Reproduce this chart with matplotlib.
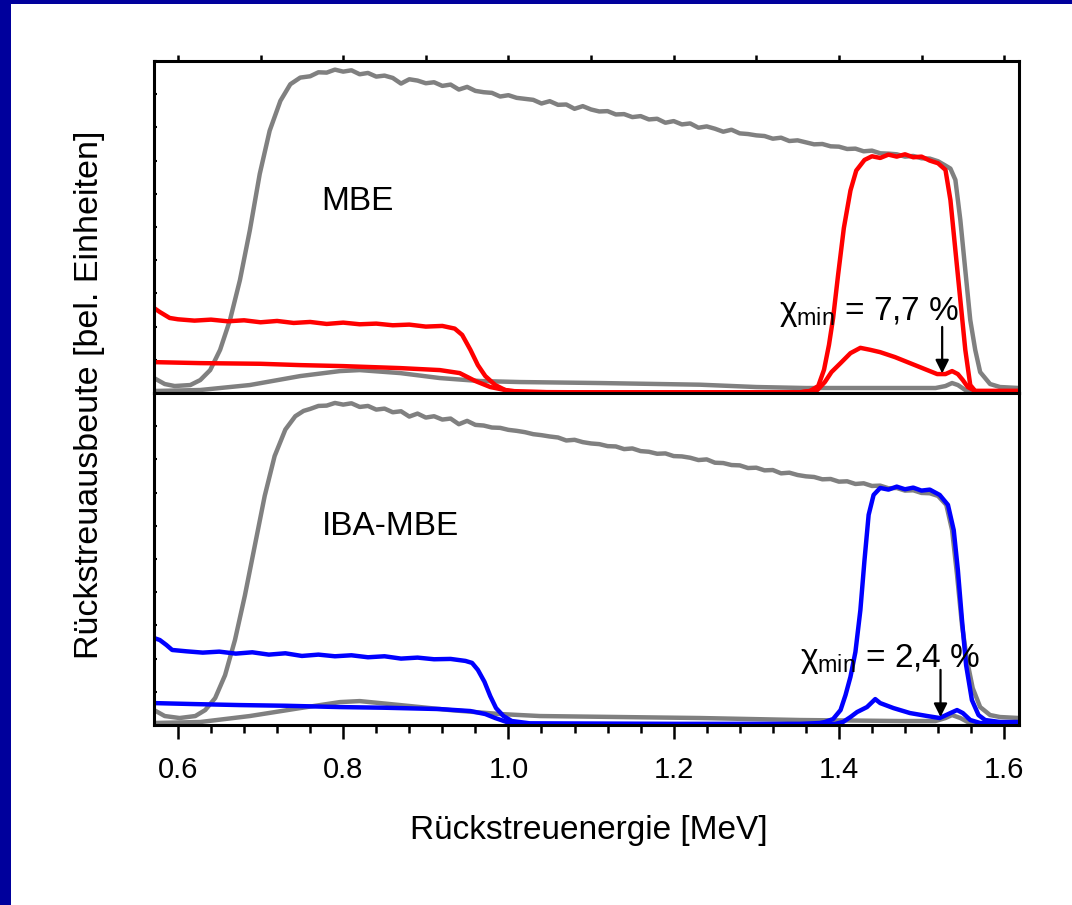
import numpy as np
import matplotlib
matplotlib.use("Agg")
import matplotlib.pyplot as plt
from matplotlib.patches import Rectangle
from matplotlib.ticker import MultipleLocator, NullFormatter

plt.rcParams['font.family'] = ['Liberation Sans', 'DejaVu Sans']
plt.rcParams['mathtext.fontset'] = 'custom'
plt.rcParams['mathtext.rm'] = 'Liberation Sans'
plt.rcParams['mathtext.it'] = 'Liberation Sans'

# ---- MBE sample: random spectrum of the substrate (grey) ----
mbe_sub_rand_e = [0.571, 0.584, 0.596, 0.615, 0.627, 0.639, 0.651, 0.663, 0.675,
                  0.687, 0.699, 0.711, 0.724, 0.736, 0.748]
mbe_sub_rand_y = [4.5, 2.7, 2.1, 2.4, 3.9, 6.9, 13, 22, 34, 49, 66, 79, 88, 93, 95]
# plateau channels 0.76 ... 1.52 MeV
mbe_sub_plateau_y = [95.4, 96.6, 96.5, 97.4, 96.8, 97.2, 96.0, 96.4, 95.3, 95.6,
                     94.9, 93.2, 94.5, 94.1, 93.3, 93.6, 92.5, 92.9, 91.4, 92.2,
                     91.0, 90.6, 90.4, 89.3, 89.7, 88.9, 88.6, 88.3, 87.2, 87.9,
                     86.8, 86.9, 85.6, 86.4, 85.4, 84.8, 84.9, 83.9, 84.0, 83.1,
                     83.4, 82.4, 82.6, 81.4, 81.9, 80.9, 81.2, 79.9, 80.3, 79.6,
                     78.7, 79.3, 78.2, 78.0, 77.6, 77.4, 76.6, 76.9, 75.9, 76.1,
                     75.5, 74.9, 75.0, 74.3, 74.2, 73.5, 73.6, 72.8, 73.0, 72.2,
                     72.1, 71.9, 71.2, 71.4, 70.7, 70.6, 69.8]
mbe_sub_edge_e = [1.529, 1.535, 1.541, 1.547, 1.553, 1.559, 1.565, 1.571, 1.583, 1.595, 1.618]
mbe_sub_edge_y = [68.5, 67.6, 64.2, 52.1, 37, 22, 13, 6.3, 2.7, 1.8, 1.5]

# MBE: aligned substrate (grey)
mbe_sub_al_e = [0.571, 0.627, 0.687, 0.748, 0.796, 0.82, 0.869, 0.917, 0.966, 1.014,
                1.111, 1.232, 1.30, 1.36, 1.414, 1.474, 1.517, 1.529, 1.537, 1.544,
                1.553, 1.565, 1.618]
mbe_sub_al_y = [0.6, 0.9, 2.4, 5.1, 6.6, 6.9, 6.0, 4.5, 3.6, 3.3,
                3.0, 2.5, 1.8, 1.5, 1.5, 1.5, 1.5, 2.1, 3.0, 2.4,
                0.9, 0.3, 0.3]

# MBE: random film spectrum (red)
mbe_film_rand_e = [0.571, 0.578, 0.590, 0.60, 0.62, 0.64, 0.66, 0.68, 0.70, 0.72,
                   0.74, 0.76, 0.78, 0.80, 0.82, 0.84, 0.86, 0.88, 0.90, 0.92,
                   0.935, 0.944, 0.954, 0.963, 0.972, 0.984, 0.996, 1.014, 1.10,
                   1.25, 1.353, 1.365, 1.375, 1.382, 1.388, 1.393, 1.399, 1.406,
                   1.414, 1.421, 1.431, 1.44, 1.45, 1.46, 1.47, 1.48, 1.49, 1.50,
                   1.51, 1.52, 1.529, 1.535, 1.541, 1.547, 1.553, 1.559, 1.565,
                   1.59, 1.618]
mbe_film_rand_y = [25.6, 24.4, 22.6, 22.2, 21.8, 22.1, 21.6, 21.9, 21.3, 21.7,
                   21.1, 21.4, 20.8, 21.2, 20.7, 20.9, 20.4, 20.6, 20.0, 20.2,
                   19.4, 17.5, 13, 8.4, 5.1, 2.4, 0.9, 0.3, 0.2,
                   0.2, 0.2, 0.6, 2.1, 7, 14.5, 22.6, 35.5, 49.7,
                   61, 67, 70.2, 71.3, 70.8, 71.8, 71.2, 71.9, 71.0, 71.2,
                   70.0, 69.2, 67.2, 58.1, 43, 28, 13, 2.4, 0.6,
                   0.6, 0.6]

# MBE: aligned film spectrum (red)
mbe_film_al_e = [0.571, 0.627, 0.70, 0.748, 0.80, 0.869, 0.917, 0.941, 0.960, 0.978,
                 1.002, 1.050, 1.25, 1.353, 1.374, 1.383, 1.391, 1.402, 1.414,
                 1.426, 1.438, 1.450, 1.468, 1.486, 1.504, 1.519, 1.529, 1.537,
                 1.544, 1.550, 1.556, 1.565, 1.618]
mbe_film_al_y = [9.3, 9.0, 8.8, 8.4, 8.1, 7.5, 6.9, 6.0, 3.6, 1.8,
                 0.6, 0.2, 0.2, 0.2, 0.9, 3.3, 6.3, 9.0, 12.0,
                 13.6, 13.0, 12.3, 10.8, 9.0, 7.2, 5.7, 5.7, 6.6,
                 5.7, 3.9, 1.8, 0.6, 0.6]

# ---- IBA-MBE sample ----
iba_sub_rand_e = [0.571, 0.584, 0.602, 0.621, 0.633, 0.645, 0.657, 0.669, 0.681,
                  0.693, 0.705, 0.717, 0.730, 0.742, 0.752]
iba_sub_rand_y = [4.5, 2.7, 2.1, 2.7, 4.5, 8.1, 15, 25.6, 39, 54, 69, 81, 89, 93, 94.6]
iba_sub_plateau_y = [95.2, 96.1, 96.2, 97.0, 96.5, 96.9, 95.8, 96.1, 95.0, 95.3,
                     94.2, 94.5, 92.9, 93.8, 92.6, 93.0, 92.0, 92.3, 90.6, 91.6,
                     90.4, 90.2, 89.6, 89.5, 88.9, 88.6, 88.2, 87.6, 87.3, 86.9,
                     86.6, 85.7, 85.9, 85.2, 84.8, 84.6, 84.0, 83.9, 83.1, 83.3,
                     82.5, 82.3, 81.7, 81.8, 81.0, 80.9, 80.5, 79.8, 80.0, 79.0,
                     78.9, 78.3, 78.2, 77.4, 77.5, 76.7, 76.8, 75.8, 76.0, 75.3,
                     74.9, 74.7, 74.0, 74.1, 73.3, 73.4, 72.6, 72.8, 72.0, 72.1,
                     71.3, 71.4, 70.6, 70.7, 69.9, 69.8, 69.0]
iba_sub_edge_e = [1.530, 1.537, 1.543, 1.549, 1.555, 1.562, 1.571, 1.583, 1.595, 1.618]
iba_sub_edge_y = [66.3, 58.7, 45.2, 30.1, 19.6, 11.1, 5.4, 3.0, 2.4, 2.1]

iba_sub_al_e = [0.571, 0.627, 0.687, 0.748, 0.796, 0.82, 0.869, 0.929, 0.990, 1.038,
                1.232, 1.353, 1.474, 1.517, 1.529, 1.537, 1.547, 1.556, 1.571, 1.618]
iba_sub_al_y = [0.6, 0.9, 2.7, 5.1, 6.9, 7.2, 6.0, 4.5, 3.3, 2.7,
                2.1, 1.5, 1.2, 1.2, 2.1, 3.0, 2.1, 0.9, 0.3, 0.3]

iba_film_rand_e = [0.571, 0.578, 0.586, 0.593, 0.61, 0.63, 0.65, 0.67, 0.69, 0.71,
                   0.73, 0.75, 0.77, 0.79, 0.81, 0.83, 0.85, 0.87, 0.89, 0.91,
                   0.93, 0.948, 0.956, 0.963, 0.971, 0.978, 0.985, 0.994, 1.004,
                   1.026, 1.20, 1.353, 1.377, 1.383, 1.393, 1.402, 1.408, 1.414,
                   1.420, 1.426, 1.431, 1.436, 1.442, 1.45, 1.46, 1.47, 1.48, 1.49,
                   1.50, 1.51, 1.522, 1.532, 1.539, 1.544, 1.549, 1.554, 1.561,
                   1.569, 1.577, 1.595, 1.618]
iba_film_rand_y = [26.2, 25.6, 24.1, 22.6, 22.2, 21.8, 22.1, 21.5, 21.9, 21.2,
                   21.6, 20.8, 21.2, 20.7, 21.0, 20.4, 20.7, 20.0, 20.3, 19.8,
                   19.9, 19.3, 18.7, 16.6, 13, 8.7, 5.1, 2.7, 1.2,
                   0.5, 0.3, 0.3, 0.6, 0.9, 1.8, 4.5, 9, 14.5,
                   22, 34.6, 49.7, 63.3, 69.3, 71.4, 70.9, 71.8, 71.0, 71.5,
                   70.6, 70.9, 69.3, 66.3, 58.7, 46.7, 31.6, 18, 7.5,
                   3, 1.5, 0.9, 0.9]

iba_film_al_e = [0.571, 0.62, 0.675, 0.73, 0.796, 0.85, 0.917, 0.954, 0.972, 0.984,
                 0.998, 1.02, 1.25, 1.395, 1.405, 1.414, 1.422, 1.434, 1.444,
                 1.450, 1.466, 1.486, 1.507, 1.522, 1.535, 1.543, 1.550, 1.559,
                 1.571, 1.618]
iba_film_al_y = [6.6, 6.3, 6.0, 5.8, 5.4, 5.2, 4.8, 4.2, 3.3, 2.1,
                 0.9, 0.3, 0.3, 0.3, 0.9, 2.4, 3.9, 5.4, 7.8,
                 6.6, 5.1, 3.6, 2.7, 2.1, 3.6, 4.5, 3.6, 1.5,
                 0.6, 0.6]

plateau_e = np.round(np.arange(0.76, 1.5201, 0.01), 2)

panels = [
    dict(name="MBE", name_y=55.1, color="#ff0000",
         sub_rand=(mbe_sub_rand_e + list(plateau_e) + mbe_sub_edge_e,
                   mbe_sub_rand_y + mbe_sub_plateau_y + mbe_sub_edge_y),
         sub_al=(mbe_sub_al_e, mbe_sub_al_y),
         film_rand=(mbe_film_rand_e, mbe_film_rand_y),
         film_al=(mbe_film_al_e, mbe_film_al_y),
         chi="7,7", chi_xy=(1.328, 22.0), arrow_x=1.525, arrow_y=(19.9, 5.9)),
    dict(name="IBA-MBE", name_y=57.2, color="#0000ff",
         sub_rand=(iba_sub_rand_e + list(plateau_e) + iba_sub_edge_e,
                   iba_sub_rand_y + iba_sub_plateau_y + iba_sub_edge_y),
         sub_al=(iba_sub_al_e, iba_sub_al_y),
         film_rand=(iba_film_rand_e, iba_film_rand_y),
         film_al=(iba_film_al_e, iba_film_al_y),
         chi="2,4", chi_xy=(1.353, 17.5), arrow_x=1.523, arrow_y=(16.6, 2.4)),
]

fig = plt.figure(figsize=(10.72, 9.05), dpi=100)
left, width = 154 / 1072, 865 / 1072
ax_top = fig.add_axes([left, 1 - 393 / 905, width, 332 / 905])
ax_bot = fig.add_axes([left, 1 - 725 / 905, width, 332 / 905])

grey = "#808080"
lw = 3.2
for ax, p in zip([ax_top, ax_bot], panels):
    ax.plot(*p["sub_rand"], color=grey, lw=lw)
    ax.plot(*p["sub_al"], color=grey, lw=lw)
    ax.plot(*p["film_rand"], color=p["color"], lw=lw)
    ax.plot(*p["film_al"], color=p["color"], lw=lw)

    ax.set_xlim(0.571, 1.618)
    ax.set_ylim(0, 100)
    for s in ax.spines.values():
        s.set_linewidth(2.2)

    ax.text(0.774, p["name_y"], p["name"], fontsize=24, va="baseline")
    ax.text(p["chi_xy"][0], p["chi_xy"][1],
            r"$\chi_{\mathrm{min}}$" + " = " + p["chi"] + " %",
            fontsize=24, va="baseline")
    ax.annotate("", xy=(p["arrow_x"], p["arrow_y"][1]),
                xytext=(p["arrow_x"], p["arrow_y"][0]),
                arrowprops=dict(arrowstyle="-|>", color="black", lw=1.6,
                                mutation_scale=20, shrinkA=0, shrinkB=0))

    ax.yaxis.set_major_locator(MultipleLocator(10))
    ax.yaxis.set_major_formatter(NullFormatter())
    ax.tick_params(axis="y", which="both", left=True, right=False,
                   direction="in", length=2, width=1.5)

# top panel: small ticks, no labels
ax_top.xaxis.set_major_locator(MultipleLocator(0.1))
ax_top.xaxis.set_major_formatter(NullFormatter())
ax_top.tick_params(axis="x", which="major", top=True, bottom=True,
                   direction="in", length=4, width=1.8)
ax_top.tick_params(axis="x", which="major", bottom=True, direction="out")

# bottom panel: energy axis
ax_bot.xaxis.set_major_locator(MultipleLocator(0.2))
ax_bot.xaxis.set_minor_locator(MultipleLocator(0.04))
ax_bot.xaxis.set_major_formatter(plt.FuncFormatter(lambda v, _: f"{v:.1f}"))
ax_bot.tick_params(axis="x", which="major", direction="out", length=10,
                   width=1.8, labelsize=21, pad=12, top=False)
ax_bot.tick_params(axis="x", which="minor", direction="out", length=6,
                   width=1.8, top=False)

fig.text(589 / 1072, 1 - 830 / 905, "Rückstreuenergie [MeV]", fontsize=24,
         ha="center", va="center")
fig.text(90 / 1072, 1 - 395 / 905, "Rückstreuausbeute [bel. Einheiten]",
         fontsize=24.5, ha="center", va="center", rotation=90)

# dark blue frame on the left and top edge
frame = "#00009c"
fig.add_artist(Rectangle((0, 0), 11 / 1072, 1, transform=fig.transFigure,
                         color=frame, lw=0, zorder=10))
fig.add_artist(Rectangle((0, 1 - 4 / 905), 1, 4 / 905, transform=fig.transFigure,
                         color=frame, lw=0, zorder=10))

fig.savefig("out.png", dpi=100)
